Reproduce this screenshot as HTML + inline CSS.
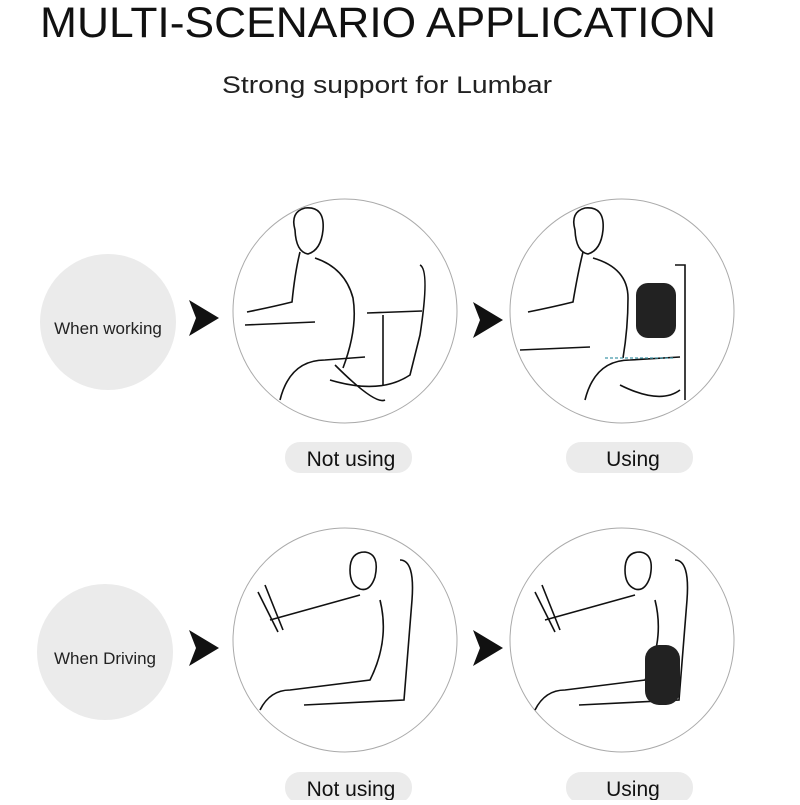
<!DOCTYPE html>
<html><head><style>
body{margin:0;background:#fff;width:800px;height:800px;overflow:hidden;font-family:"Liberation Sans",sans-serif;}
</style></head><body>
<svg width="800" height="800" viewBox="0 0 800 800" xmlns="http://www.w3.org/2000/svg">
<rect width="800" height="800" fill="#fff"/>
<text x="378" y="37" text-anchor="middle" font-family="Liberation Sans, sans-serif" font-size="43" fill="#111" textLength="676" lengthAdjust="spacingAndGlyphs">MULTI-SCENARIO APPLICATION</text>
<text x="387" y="93" text-anchor="middle" font-family="Liberation Sans, sans-serif" font-size="24" fill="#222" textLength="330" lengthAdjust="spacingAndGlyphs">Strong support for Lumbar</text>

<!-- row 1 -->
<circle cx="108" cy="322" r="68" fill="#ebebeb"/>
<text x="108" y="334" text-anchor="middle" font-size="17" fill="#222">When working</text>
<polygon points="189,300 219,318 189,336 196,318" fill="#111"/>
<polygon points="473,302 503,320 473,338 480,320" fill="#111"/>
<circle cx="345" cy="311" r="112" fill="#fff" stroke="#aaa" stroke-width="1"/>
<circle cx="622" cy="311" r="112" fill="#fff" stroke="#aaa" stroke-width="1"/>
<g fill="none" stroke="#111" stroke-width="1.6">
<!-- not using working -->
<path d="M295 230 q-5 -18 10 -22 q20 -2 18 22 q-2 20 -15 24 q-12 -2 -13 -24z"/>
<path d="M315 258 q30 10 38 40 q5 30 -10 70 M300 252 q-5 20 -8 50 q-20 5 -45 10"/>
<path d="M245 325 l70 -3 M280 400 q10 -40 45 -40 l40 -3"/>
<path d="M420 265 q10 5 0 70 l-10 40 q-30 20 -80 5 M335 365 q40 40 50 35"/>
<path d="M367 313 l55 -2 M383 315 l0 70"/>
<!-- using working -->
<path d="M575 230 q-5 -18 10 -22 q20 -2 18 22 q-2 20 -15 24 q-12 -2 -13 -24z"/>
<path d="M593 258 q35 10 35 40 q0 30 -5 60 M583 252 q-5 20 -10 50 q-20 5 -45 10 M520 350 l70 -3"/>
<path d="M585 400 q10 -40 45 -40 l50 -3 M675 265 l10 0 l0 135 M620 385 q40 20 60 5"/>
</g>
<rect x="636" y="283" width="40" height="55" rx="12" fill="#222"/>
<path d="M605 358 l70 0" stroke="#49a" stroke-width="1.2" stroke-dasharray="3 2"/>
<rect x="285" y="442" width="127" height="31" rx="15" fill="#ebebeb"/>
<text x="351" y="466" text-anchor="middle" font-size="21" fill="#111">Not using</text>
<rect x="566" y="442" width="127" height="31" rx="15" fill="#ebebeb"/>
<text x="633" y="466" text-anchor="middle" font-size="21" fill="#111">Using</text>

<!-- row 2 -->
<circle cx="105" cy="652" r="68" fill="#ebebeb"/>
<text x="105" y="664" text-anchor="middle" font-size="17" fill="#222">When Driving</text>
<polygon points="189,630 219,648 189,666 196,648" fill="#111"/>
<polygon points="473,630 503,648 473,666 480,648" fill="#111"/>
<circle cx="345" cy="640" r="112" fill="#fff" stroke="#aaa" stroke-width="1"/>
<circle cx="622" cy="640" r="112" fill="#fff" stroke="#aaa" stroke-width="1"/>
<g fill="none" stroke="#111" stroke-width="1.6">
<path d="M350 570 q0 -18 15 -18 q15 2 10 25 q-5 15 -15 12 q-10 -4 -10 -19z"/>
<path d="M270 620 l90 -25 M380 600 q10 40 -10 80 l-80 10 q-20 0 -30 20 M400 560 q15 0 12 40 l-8 100 l-100 5"/>
<path d="M258 592 l20 40 M265 585 l18 45"/>
<path d="M625 570 q0 -18 15 -18 q15 2 10 25 q-5 15 -15 12 q-10 -4 -10 -19z"/>
<path d="M545 620 l90 -25 M655 600 q10 40 -10 80 l-80 10 q-20 0 -30 20 M675 560 q15 0 12 40 l-8 100 l-100 5"/>
<path d="M535 592 l20 40 M542 585 l18 45"/>
</g>
<rect x="645" y="645" width="35" height="60" rx="14" fill="#222"/>
<rect x="285" y="772" width="127" height="31" rx="15" fill="#ebebeb"/>
<text x="351" y="796" text-anchor="middle" font-size="21" fill="#111">Not using</text>
<rect x="566" y="772" width="127" height="31" rx="15" fill="#ebebeb"/>
<text x="633" y="796" text-anchor="middle" font-size="21" fill="#111">Using</text>
</svg>
</body></html>
